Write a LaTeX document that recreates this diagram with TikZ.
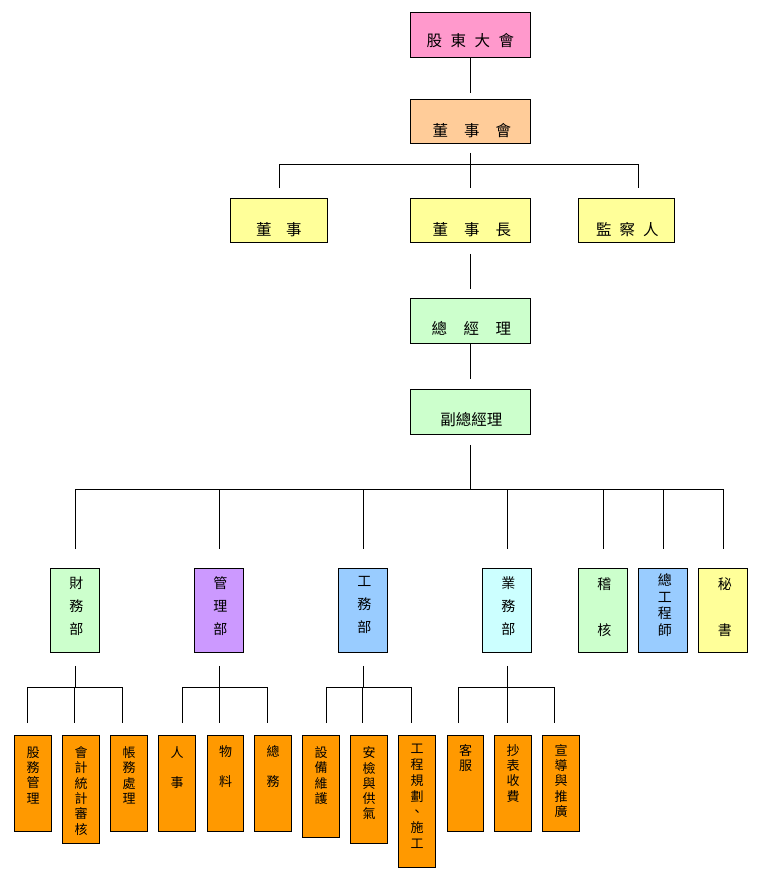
\documentclass[tikz,border=0pt]{standalone}
\usepackage{fontspec}
\newfontfamily\cjk{Noto Sans CJK TC}
\usetikzlibrary{calc}
\definecolor{cpink}{HTML}{FF99CC}
\definecolor{cpeach}{HTML}{FFCC99}
\definecolor{cyel}{HTML}{FFFF99}
\definecolor{cgreen}{HTML}{CCFFCC}
\definecolor{cpurple}{HTML}{CC99FF}
\definecolor{cblue}{HTML}{99CCFF}
\definecolor{ccyan}{HTML}{CCFFFF}
\definecolor{corange}{HTML}{FF9900}
\begin{document}
\begin{tikzpicture}[x=1pt,y=-1pt,
  box/.style={draw=black, line width=0.9pt, anchor=north west, inner sep=0pt},
  conn/.style={draw=black, line width=0.9pt},
  htext/.style={font=\cjk\fontsize{15.5}{18}\selectfont, inner sep=0pt, anchor=center},
  dtext/.style={anchor=north, inner sep=0pt, align=center},
  dfont/.style={font=\cjk\fontsize{14}{#1}\selectfont},
  sfont/.style={font=\cjk\fontsize{13}{#1}\selectfont},
  dept/.style={box, minimum width=49pt, minimum height=84pt},
  sub/.style={box, fill=corange, minimum width=36.5pt}
]
\path[use as bounding box, fill=white] (0,0) rectangle (760,880);

% top boxes
\node[box, fill=cpink, minimum width=120pt, minimum height=45pt] (gd) at (410,12) {};
\node[box, fill=cpeach, minimum width=120pt, minimum height=44pt] (dsh) at (410,99) {};
\node[box, fill=cyel, minimum width=97pt, minimum height=44pt] (ds) at (230,198) {};
\node[box, fill=cyel, minimum width=120pt, minimum height=44pt] (dsz) at (410,198) {};
\node[box, fill=cyel, minimum width=96pt, minimum height=44pt] (jcr) at (578,198) {};
\node[box, fill=cgreen, minimum width=120pt, minimum height=45pt] (zjl) at (410,298) {};
\node[box, fill=cgreen, minimum width=120pt, minimum height=45pt] (fzjl) at (410,389) {};

\node[htext] (tgd) at ($(gd.center)+(0,6)$) {股\hspace{8.5pt}東\hspace{8.5pt}大\hspace{8.5pt}會};
\node[htext] (tdsh) at ($(dsh.center)+(1.5,9)$) {董\hspace{16pt}事\hspace{16pt}會};
\node[htext] (tds) at ($(ds.center)+(0,9.5)$) {董\hspace{14.5pt}事};
\node[htext] (tdsz) at ($(dsz.center)+(1.5,9.5)$) {董\hspace{16pt}事\hspace{16pt}長};
\node[htext] (tjcr) at ($(jcr.center)+(1,9.5)$) {監\hspace{8pt}察\hspace{8pt}人};
\node[htext] (tzjl) at ($(zjl.center)+(1,7.5)$) {總\hspace{16.5pt}經\hspace{16.5pt}理};
\node[htext] (tfzjl) at ($(fzjl.center)+(1,7.5)$) {副總經理};

% departments
\node[dept, fill=cgreen] (cwb) at (50,568) {};
\node[dept, fill=cpurple] (glb) at (194,568) {};
\node[dept, fill=cblue] (gwb) at (338,568) {};
\node[dept, fill=ccyan] (ywb) at (482,568) {};
\node[dept, fill=cgreen] (jh) at (578,568) {};
\node[dept, fill=cblue] (zgcs) at (638,568) {};
\node[dept, fill=cyel] (ms) at (698,568) {};

\node[dtext, dfont=23] (tcwb) at ($(cwb.north)+(1.5,8.5)$) {財\\務\\部};
\node[dtext, dfont=23] (tglb) at ($(glb.north)+(1.5,8.5)$) {管\\理\\部};
\node[dtext, dfont=23] (tgwb) at ($(gwb.north)+(1.5,8.5)$) {工\\務\\部};
\node[dtext, dfont=23] (tywb) at ($(ywb.north)+(1.5,8.5)$) {業\\務\\部};
\node[dtext, dfont=46] (tjh) at ($(jh.north)+(1.5,9.5)$) {稽\\核};
\node[dtext, dfont=16.7] (tzgcs) at ($(zgcs.north)+(2,5.5)$) {總\\工\\程\\師};
\node[dtext, dfont=46] (tms) at ($(ms.north)+(2,9.5)$) {秘\\書};

% sub units
\node[sub, minimum height=96pt] (s1) at (14,735) {};
\node[sub, minimum height=108pt] (s2) at (62,735) {};
\node[sub, minimum height=96pt] (s3) at (110,735) {};
\node[sub, minimum height=96pt] (s4) at (158,735) {};
\node[sub, minimum height=96pt] (s5) at (206.5,735) {};
\node[sub, minimum height=96pt] (s6) at (254,735) {};
\node[sub, minimum height=102pt] (s7) at (302,735) {};
\node[sub, minimum height=108pt] (s8) at (350,735) {};
\node[sub, minimum height=132pt] (s9) at (398,735) {};
\node[sub, minimum height=96pt] (s10) at (446.5,735) {};
\node[sub, minimum height=96pt] (s11) at (494,735) {};
\node[sub, minimum height=96pt] (s12) at (542,735) {};

\node[dtext, sfont=15.3] (ts1) at ($(s1.north)+(0.5,11.5)$) {股\\務\\管\\理};
\node[dtext, sfont=15.3] (ts2) at ($(s2.north)+(0.5,11.5)$) {會\\計\\統\\計\\審\\核};
\node[dtext, sfont=15.3] (ts3) at ($(s3.north)+(0.5,11.5)$) {帳\\務\\處\\理};
\node[dtext, sfont=29.5] (ts4) at ($(s4.north)+(0.5,11.5)$) {人\\事};
\node[dtext, sfont=30] (ts5) at ($(s5.north)+(0.5,10)$) {物\\料};
\node[dtext, sfont=30] (ts6) at ($(s6.north)+(0.5,10)$) {總\\務};
\node[dtext, sfont=15.3] (ts7) at ($(s7.north)+(0.5,11.5)$) {設\\備\\維\\護};
\node[dtext, sfont=15.3] (ts8) at ($(s8.north)+(0.5,11.5)$) {安\\檢\\與\\供\\氣};
\node[dtext, sfont=15.8] (ts9) at ($(s9.north)+(0.5,9)$) {工\\程\\規\\劃\\、\\施\\工};
\node[dtext, sfont=15.3] (ts10) at ($(s10.north)+(0.5,9)$) {客\\服};
\node[dtext, sfont=15.3] (ts11) at ($(s11.north)+(0.5,9)$) {抄\\表\\收\\費};
\node[dtext, sfont=15.3] (ts12) at ($(s12.north)+(0.5,9)$) {宣\\導\\與\\推\\廣};

% connectors: top
\draw[conn] (gd.south) -- ($(dsh.north)+(0,-6)$);
\draw[conn] ($(dsh.south)+(0,9)$) -- ($(dsz.north)+(0,-10)$);
\draw[conn] ($(ds.north)+(0,-10)$) -- ($(ds.north)+(0,-34)$) -- ($(jcr.north)+(12,-34)$) -- ($(jcr.north)+(12,-10)$);
\draw[conn] ($(dsz.south)+(0,11)$) -- ($(zjl.north)+(0,-9)$);
\draw[conn] (zjl.south) -- ($(fzjl.north)+(0,-10)$);
\draw[conn] ($(fzjl.south)+(0,10)$) -- ($(fzjl.south)+(0,55)$);
\draw[conn] ($(cwb.north)+(0,-19)$) -- ($(cwb.north)+(0,-79)$) -- ($(ms.north)+(0,-79)$) -- ($(ms.north)+(0,-19)$);
\foreach \d in {glb,gwb,ywb,jh,zgcs}{
  \draw[conn] ($(\d.north)+(0,-79)$) -- ($(\d.north)+(0,-19)$);
}

% connectors: department groups
\draw[conn] ($(cwb.south)+(0,13)$) -- ($(cwb.south)+(0,35)$);
\draw[conn] ($(s1.north)+(-5.5,-12)$) -- ($(s1.north)+(-5.5,-48)$) -- ($(s3.north)+(-6,-48)$) -- ($(s3.north)+(-6,-12)$);
\draw[conn] ($(s2.north)+(-6.5,-48)$) -- ($(s2.north)+(-6.5,-12)$);

\draw[conn] ($(glb.south)+(0,13)$) -- ($(glb.south)+(0,35)$);
\draw[conn] ($(s4.north)+(6,-12)$) -- ($(s4.north)+(6,-48)$) -- ($(s6.north)+(-5.5,-48)$) -- ($(s6.north)+(-5.5,-12)$);
\draw[conn] ($(s5.north)+(-6.2,-48)$) -- ($(s5.north)+(-6.2,-12)$);

\draw[conn] ($(gwb.south)+(0,13)$) -- ($(gwb.south)+(0,35)$);
\draw[conn] ($(s7.north)+(6,-12)$) -- ($(s7.north)+(6,-48)$) -- ($(s9.north)+(-5,-48)$) -- ($(s9.north)+(-5,-12)$);
\draw[conn] ($(s8.north)+(-6.5,-48)$) -- ($(s8.north)+(-6.5,-12)$);

\draw[conn] ($(ywb.south)+(0,13)$) -- ($(ywb.south)+(0,35)$);
\draw[conn] ($(s10.north)+(-6.5,-12)$) -- ($(s10.north)+(-6.5,-48)$) -- ($(s12.north)+(-6,-48)$) -- ($(s12.north)+(-6,-12)$);
\draw[conn] ($(s11.north)+(-5,-48)$) -- ($(s11.north)+(-5,-12)$);
\end{tikzpicture}
\end{document}
